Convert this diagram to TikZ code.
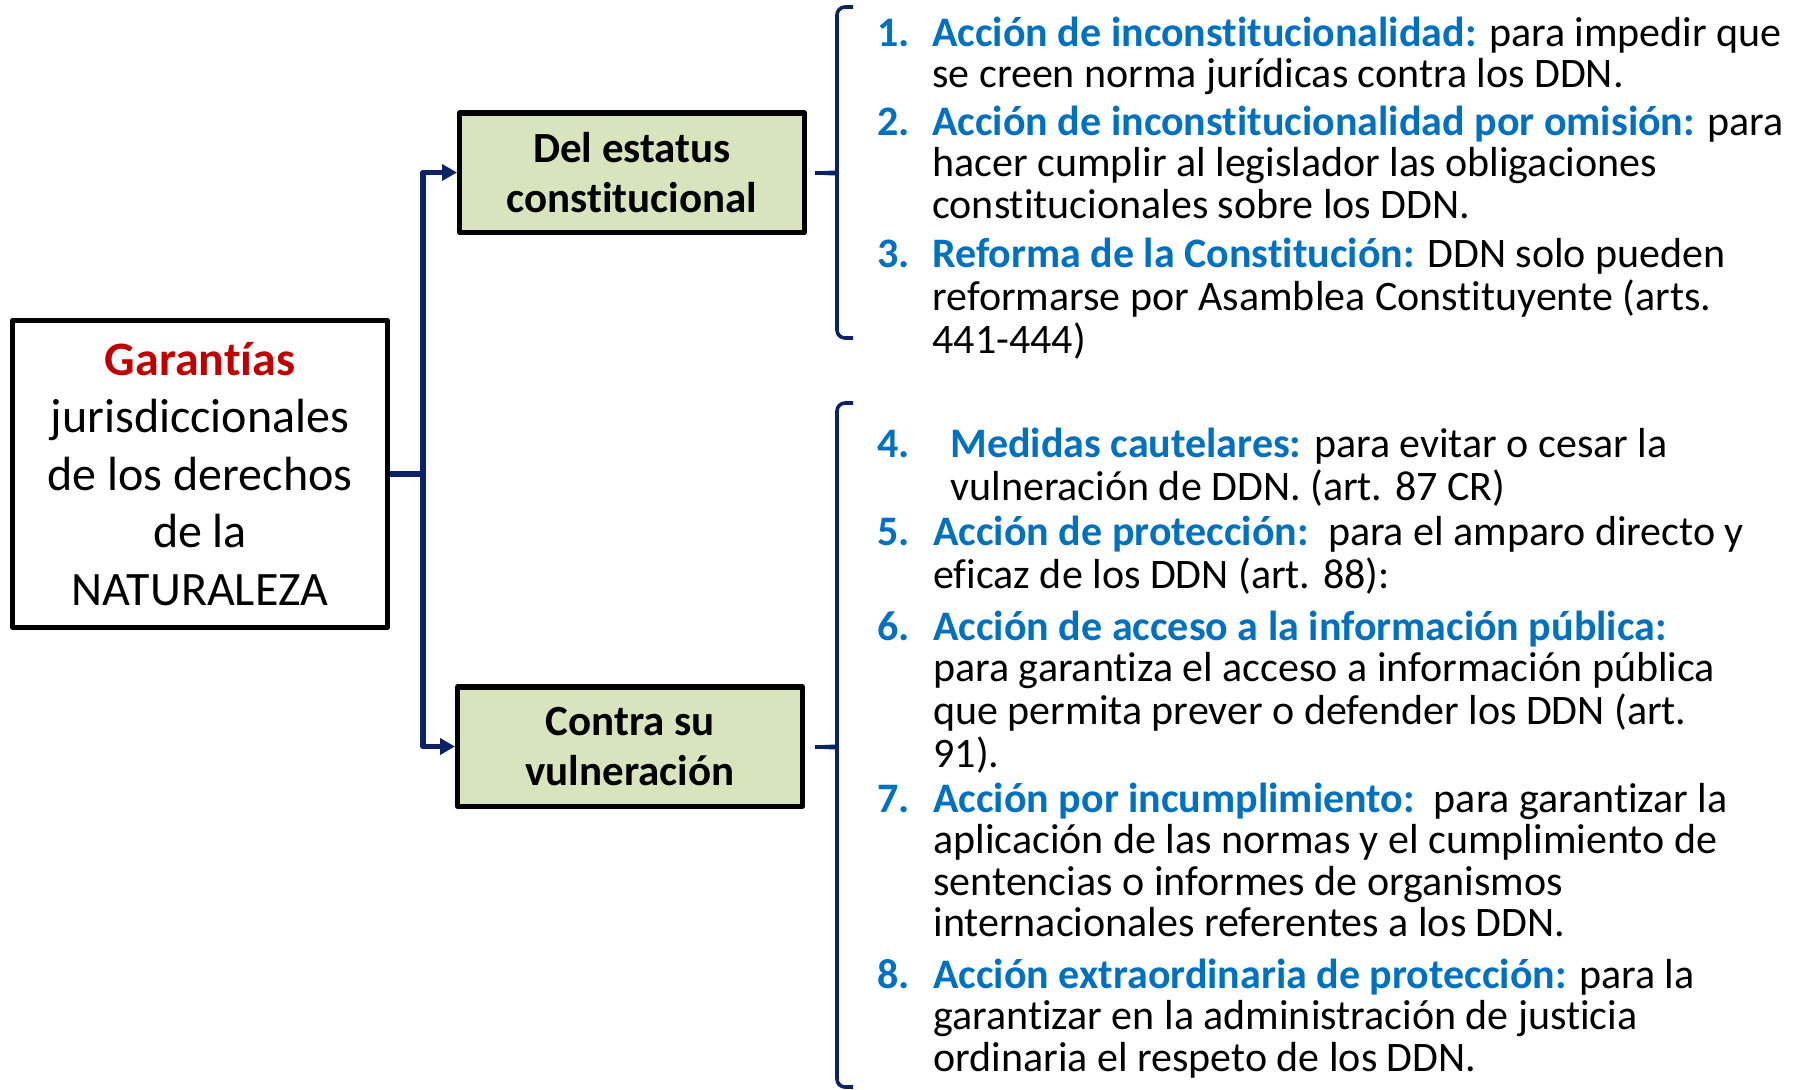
\documentclass[tikz,border=0pt]{standalone}
\usepackage{fontspec}
\setmainfont{Carlito}[Ligatures={NoCommon}]
\usetikzlibrary{arrows.meta}
\definecolor{verdeclaro}{HTML}{D7E4BD}
\definecolor{azul}{HTML}{0070C0}
\definecolor{rojo}{HTML}{C00000}
\definecolor{marino}{HTML}{0B2266}
\newcommand{\lineas}[1]{\begin{tabular}[t]{@{}l@{}}#1\end{tabular}}
\begin{document}
\begin{tikzpicture}[x=0.5pt, y=-0.5pt, line join=round,
	caja/.style={draw=black, line width=2.6pt, align=center, inner sep=0pt},
	verde/.style={caja, fill=verdeclaro, minimum width=172.4pt, minimum height=59.6pt, font=\fontsize{21.5}{25}\selectfont\bfseries},
	enlace/.style={draw=marino, line width=2.8pt},
	llave/.style={draw=marino, line width=1.8pt, rounded corners=4pt},
	num/.style={anchor=base west, inner sep=0pt, text=azul, font=\fontsize{21}{20.75}\selectfont\bfseries},
	txt/.style={anchor=base west, inner sep=0pt, font=\fontsize{21}{20.75}\selectfont},
	>={Triangle[length=7.5pt,width=8pt]}]
	\useasboundingbox (0,0) rectangle (1808,1089);
	% cajas
	\node[caja, minimum width=187.4pt, minimum height=153.4pt, font=\fontsize{24}{28.75}\selectfont] (gar) at (200,474)
		{{\color{rojo}\bfseries Garantías}\\jurisdiccionales\\de los derechos\\de la\\NATURALEZA};
	\node[verde] (estatus) at (632,172.5) {Del estatus\\constitucional};
	\node[verde] (vuln) at (630,746.5) {Contra su\\vulneración};
	% enlaces
	\coordinate (j) at (423,474);
	\draw[enlace] (gar.east) -- (j);
	\draw[enlace,->] (j) |- (estatus.west);
	\draw[enlace,->] (j) |- (vuln.west);
	% llaves
	\coordinate (p1) at (815,173);
	\coordinate (p2) at (815,747);
	\draw[llave] (853,7) -- (837,7) -- (837,166) .. controls (837,171) and (832,173) .. (p1);
	\draw[llave] (853,338) -- (837,338) -- (837,180) .. controls (837,175) and (832,173) .. (p1);
	\draw[llave] (853,403) -- (837,403) -- (837,740) .. controls (837,745) and (832,747) .. (p2);
	\draw[llave] (853,1087) -- (837,1087) -- (837,754) .. controls (837,749) and (832,747) .. (p2);
	% lista
	\node[num] (n1) at (877,46) {1.};
	\node[txt] (t1) at (932,46) {\lineas{\textcolor{azul}{\bfseries Acción de inconstitucionalidad:} para impedir que\\se creen norma jurídicas contra los DDN.}};
	\node[num] (n2) at (877,135) {2.};
	\node[txt] (t2) at (932,135) {\lineas{\textcolor{azul}{\bfseries Acción de inconstitucionalidad por omisión:} para\\hacer cumplir al legislador las obligaciones\\constitucionales sobre los DDN.}};
	\node[num] (n3) at (877,267) {3.};
	\node[txt] (t3) at (932,267) {\lineas{\textcolor{azul}{\bfseries Reforma de la Constitución:} DDN solo pueden\\reformarse por Asamblea Constituyente (arts.\\441-444)}};
	\node[num] (n4) at (877,457) {4.};
	\node[txt] (t4) at (950,457) {\lineas{\textcolor{azul}{\bfseries Medidas cautelares:} para evitar o cesar la\\vulneración de DDN. (art. 87 CR)}};
	\node[num] (n5) at (877,545) {5.};
	\node[txt] (t5) at (933,545) {\lineas{\textcolor{azul}{\bfseries Acción de protección:}\ \ para el amparo directo y\\eficaz de los DDN (art. 88):}};
	\node[num] (n6) at (877,640) {6.};
	\node[txt] (t6) at (933,640) {\lineas{\textcolor{azul}{\bfseries Acción de acceso a la información pública:}\\para garantiza el acceso a información pública\\que permita prever o defender los DDN (art.\\91).}};
	\node[num] (n7) at (877,812) {7.};
	\node[txt] (t7) at (933,812) {\lineas{\textcolor{azul}{\bfseries Acción por incumplimiento:}\ \ para garantizar la\\aplicación de las normas y el cumplimiento de\\sentencias o informes de organismos\\internacionales referentes a los DDN.}};
	\node[num] (n8) at (877,988) {8.};
	\node[txt] (t8) at (933,988) {\lineas{\textcolor{azul}{\bfseries Acción extraordinaria de protección:} para la\\garantizar en la administración de justicia\\ordinaria el respeto de los DDN.}};
\end{tikzpicture}
\end{document}
